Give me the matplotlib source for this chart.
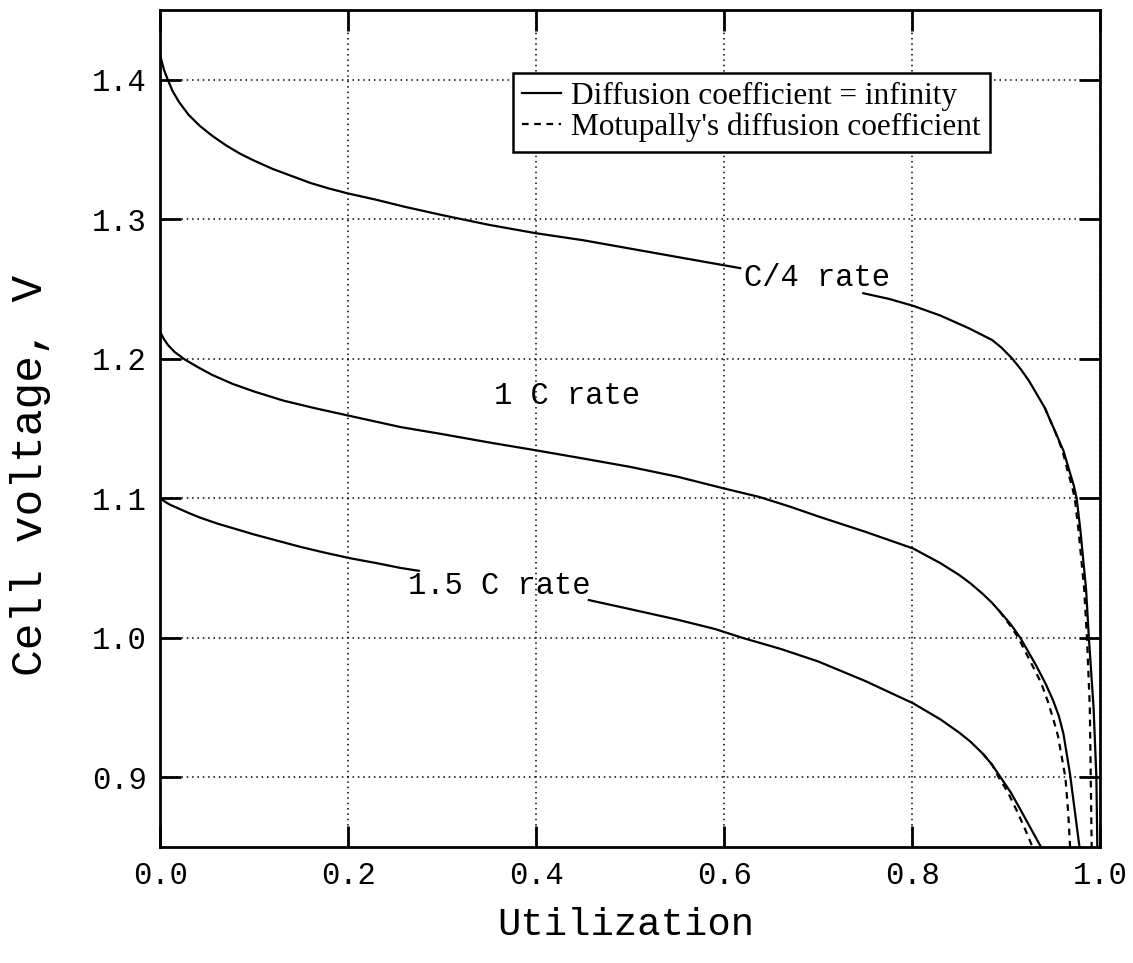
import numpy as np
import matplotlib
matplotlib.use("Agg")
import matplotlib.pyplot as plt

nan = np.nan

# C/4 rate (solid = infinite diffusion coefficient, dashed = Motupally)
c4_x = [0, 0.004, 0.008, 0.013, 0.02, 0.03, 0.042, 0.055, 0.07, 0.085, 0.1, 0.12, 0.14, 0.16, 0.18,
        0.2, 0.23, 0.26, 0.3, 0.35, 0.4, 0.45, 0.5, 0.55, 0.617, nan,
        0.748, 0.775, 0.801, 0.83, 0.86, 0.885, 0.895, 0.906, 0.915, 0.924, 0.941, 0.952, 0.961, 0.968,
        0.972, 0.975, 0.979, 0.985, 0.988, 0.993, 0.996, 0.997]
c4_y = [1.417, 1.407, 1.400, 1.392, 1.384, 1.375, 1.367, 1.360, 1.353, 1.347, 1.342, 1.336, 1.331, 1.326, 1.322,
        1.3185, 1.314, 1.309, 1.303, 1.296, 1.290, 1.285, 1.279, 1.273, 1.265, nan,
        1.247, 1.243, 1.238, 1.231, 1.222, 1.2135, 1.208, 1.2005, 1.193, 1.1845, 1.165, 1.148, 1.134, 1.118,
        1.109, 1.100, 1.077, 1.035, 1.000, 0.950, 0.900, 0.850]
c4_dash_x = [0.941, 0.952, 0.960, 0.966, 0.970, 0.973, 0.977, 0.983, 0.986, 0.989, 0.990, 0.991]
c4_dash_y = [1.165, 1.148, 1.134, 1.118, 1.109, 1.100, 1.077, 1.035, 1.000, 0.950, 0.900, 0.850]

# 1 C rate
c1_x = [0, 0.004, 0.008, 0.015, 0.026, 0.04, 0.055, 0.077, 0.1, 0.131, 0.165, 0.202, 0.256, 0.3,
        0.35, 0.403, 0.45, 0.5, 0.55, 0.6, 0.637, 0.67, 0.7, 0.75, 0.801, 0.83, 0.85, 0.862, 0.875,
        0.885, 0.893, 0.905, 0.915, 0.932, 0.942, 0.950, 0.956, 0.961, 0.968, 0.973, 0.978]
c1_y = [1.219, 1.214, 1.210, 1.205, 1.1995, 1.194, 1.1885, 1.182, 1.1765, 1.170, 1.1645, 1.159, 1.151, 1.146,
        1.140, 1.134, 1.1285, 1.1225, 1.1155, 1.107, 1.101, 1.094, 1.087, 1.076, 1.064, 1.0535, 1.045, 1.039,
        1.0315, 1.025, 1.019, 1.0095, 1.000, 0.980, 0.967, 0.955, 0.944, 0.931, 0.902, 0.876, 0.850]
c1_dash_x = [0.893, 0.904, 0.913, 0.928, 0.937, 0.944, 0.950, 0.955, 0.963, 0.966, 0.968]
c1_dash_y = [1.019, 1.009, 1.000, 0.980, 0.968, 0.955, 0.942, 0.930, 0.900, 0.875, 0.850]

# 1.5 C rate
c15_x = [0, 0.005, 0.01, 0.02, 0.03, 0.042, 0.06, 0.08, 0.1, 0.125, 0.15, 0.175, 0.202, 0.23, 0.256,
         0.275, nan,
         0.456, 0.5, 0.55, 0.59, 0.619, 0.66, 0.7, 0.75, 0.801, 0.83, 0.85, 0.862, 0.875, 0.885, 0.894,
         0.905, 0.915, 0.926, 0.937]
c15_y = [1.100, 1.0975, 1.0955, 1.0925, 1.0895, 1.0862, 1.082, 1.078, 1.074, 1.0695, 1.065, 1.061, 1.057,
         1.0535, 1.050, 1.048, nan,
         1.027, 1.0205, 1.013, 1.0063, 1.000, 0.992, 0.983, 0.969, 0.953, 0.9415, 0.932, 0.9255, 0.917,
         0.909, 0.900, 0.889, 0.877, 0.8635, 0.850]
c15_dash_x = [0.875, 0.885, 0.892, 0.902, 0.912, 0.92, 0.928]
c15_dash_y = [0.917, 0.909, 0.900, 0.889, 0.875, 0.863, 0.850]

x_ticks = [0.0, 0.2, 0.4, 0.6, 0.8, 1.0]
y_ticks = [0.9, 1.0, 1.1, 1.2, 1.3, 1.4]

mono = "Liberation Mono"
serif = "Liberation Serif"

fig = plt.figure(figsize=(11.33, 9.63), dpi=100)
ax = fig.add_axes([0.1415, 0.1205, 0.8295, 0.869])

lw = 1.6
dash = (0, (3, 2.5))
ax.plot(c4_x, c4_y, color="black", lw=lw, label="Diffusion coefficient = infinity")
ax.plot(c1_x, c1_y, color="black", lw=lw)
ax.plot(c15_x, c15_y, color="black", lw=lw)
ax.plot(c4_dash_x, c4_dash_y, color="black", lw=lw, ls=dash, label="Motupally's diffusion coefficient")
ax.plot(c1_dash_x, c1_dash_y, color="black", lw=lw, ls=dash)
ax.plot(c15_dash_x, c15_dash_y, color="black", lw=lw, ls=dash)

ax.set_xlim(0, 1.0)
ax.set_ylim(0.85, 1.45)
ax.set_xticks(x_ticks)
ax.set_yticks(y_ticks)
ax.set_xticklabels(["%.1f" % v for v in x_ticks], family=mono, fontsize=22)
ax.set_yticklabels(["%.1f" % v for v in y_ticks], family=mono, fontsize=22)
ax.tick_params(direction="in", length=15, width=2, top=True, right=True, pad=10)
ax.grid(True, color="black", ls=(0, (1, 2.5)), lw=1.1)
for s in ax.spines.values():
    s.set_linewidth(2)

ax.set_xlabel("Utilization", family=mono, fontsize=28)
ax.xaxis.label.set_va("center")
ax.xaxis.set_label_coords(0.495, -0.093)
ax.set_ylabel("Cell voltage, V", family=mono, fontsize=32)
ax.yaxis.label.set_va("center")
ax.yaxis.set_label_coords(-0.138, 0.444)

ax.text(0.621, 1.258, "C/4 rate", family=mono, fontsize=22, va="center", ha="left")
ax.text(0.355, 1.173, "1 C rate", family=mono, fontsize=22, va="center", ha="left")
ax.text(0.264, 1.037, "1.5 C rate", family=mono, fontsize=22, va="center", ha="left")

leg = ax.legend(loc="upper left", bbox_to_anchor=(0.375, 0.925), borderaxespad=0,
                prop={"family": serif, "size": 22.5}, fancybox=False, framealpha=1,
                edgecolor="black", handlelength=1.25, handletextpad=0.3,
                borderpad=0.3, labelspacing=0.05)
leg.get_frame().set_linewidth(1.8)

fig.savefig("out.png", dpi=100)
